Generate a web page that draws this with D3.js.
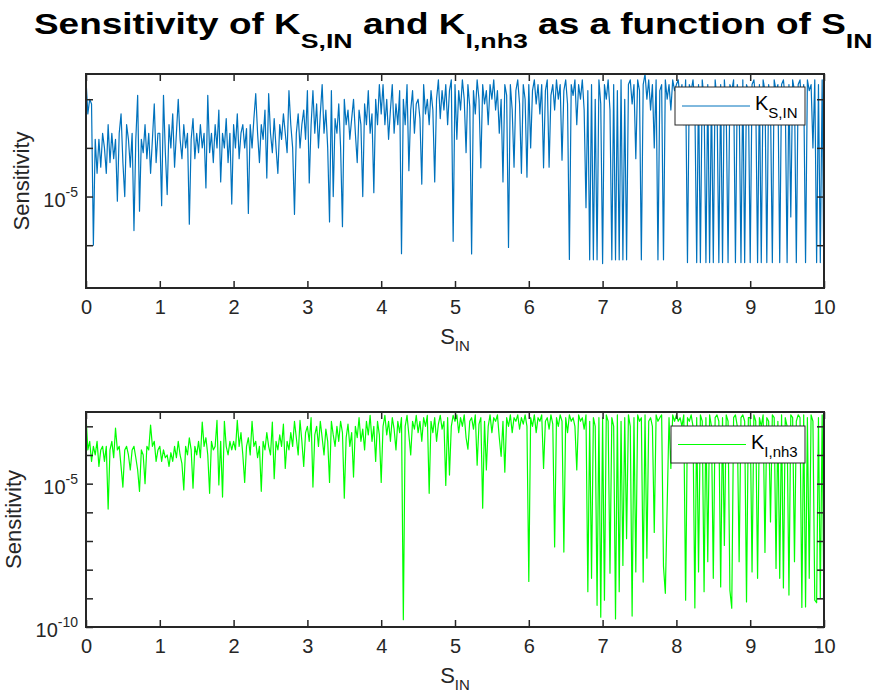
<!DOCTYPE html>
<html>
<head>
<meta charset="utf-8">
<script src="https://cdn.jsdelivr.net/npm/d3@7"></script>
<style>
  body { margin: 0; background: #fff; }
  text { font-family: "Liberation Sans", Arial, sans-serif; fill: #262626; }
</style>
</head>
<body>
<div id="chart"></div>
<script>
// Sensitivity of K_S,IN and K_I,nh3 vs S_IN

// S_IN runs 0..10 in even steps, one sample per value below
const X_TICKS = [0, 1, 2, 3, 4, 5, 6, 7, 8, 9, 10];

// K_S,IN sensitivity, 40 samples per unit of S_IN
const KS_IN = [
  // 0 - 1
  2.5e-3, 5e-4, 1e-3, 8e-4, 1e-6, 1.5e-4, 3e-5, 1.5e-4, 4e-5, 2e-4,
  1e-4, 3e-5, 3e-4, 5e-5, 2e-4, 6e-5, 1.5e-4, 8e-6, 2e-4, 5e-4,
  5e-5, 1e-5, 3e-4, 1.5e-4, 4e-5, 2e-4, 2e-6, 1.5e-4, 1.2e-3, 5e-6,
  1.5e-4, 8e-5, 3e-4, 6e-5, 2e-4, 3e-5, 1.5e-4, 8e-4, 5e-5, 2e-4,
  // 1 - 2
  2e-4, 6.5e-6, 1.2e-3, 8e-5, 1.1e-5, 3e-4, 1e-4, 5e-4, 4e-5, 2e-4,
  1e-3, 1.5e-4, 6e-5, 3e-4, 1e-4, 2e-4, 2.7e-6, 1.5e-4, 4e-4, 6e-5,
  2e-4, 8e-5, 3e-4, 1e-4, 2e-4, 1.5e-5, 1.2e-3, 8e-5, 2e-4, 5e-5,
  3e-4, 1e-4, 6e-4, 2e-5, 2e-4, 1e-4, 4e-4, 5e-5, 2e-4, 7e-6,
  // 2 - 3
  3e-4, 1e-4, 5e-4, 6e-5, 2e-4, 3e-4, 1e-4, 2.5e-4, 4.5e-6, 3e-4,
  1e-4, 4e-4, 1.3e-3, 2e-4, 5e-5, 3e-4, 1.5e-4, 6e-4, 2.4e-5, 1.3e-3,
  2e-4, 8e-5, 4e-4, 1e-4, 3e-5, 3e-4, 1.5e-4, 5e-4, 2e-4, 8e-5,
  1.5e-3, 3e-4, 1e-4, 4.3e-6, 2e-4, 5e-4, 1e-4, 3e-4, 6e-4, 1.5e-4,
  // 3 - 4
  1.5e-3, 1.9e-5, 3e-4, 1.5e-3, 2e-4, 8e-4, 1e-4, 5e-4, 2e-3, 2e-4,
  6e-4, 1e-4, 3e-6, 1.5e-3, 1e-5, 4e-4, 2e-4, 8e-4, 1e-4, 2.4e-6,
  1e-3, 3e-4, 6e-4, 1.5e-4, 4e-4, 1e-3, 2e-4, 5e-5, 6e-4, 3e-4,
  1e-5, 8e-4, 3e-4, 1.5e-3, 2e-4, 5e-4, 1.2e-5, 1e-3, 3e-4, 2e-3,
  // 4 - 5
  5e-4, 2e-3, 3e-4, 1e-3, 1.5e-4, 6e-4, 2e-3, 2e-4, 8e-4, 3e-4,
  1.5e-3, 6.7e-7, 1e-3, 3e-4, 2e-3, 3.4e-5, 6e-4, 1.5e-3, 2e-4, 8e-4,
  1e-3, 4e-4, 1.8e-5, 2e-3, 5e-4, 1e-3, 3e-4, 1.5e-3, 6e-4, 2e-5,
  1e-3, 2.5e-3, 4e-4, 1.5e-3, 6e-4, 2e-3, 3e-4, 1.5e-3, 2.5e-3, 1.2e-6,
  // 5 - 6
  2e-3, 1.5e-4, 1.5e-3, 6e-4, 2.5e-3, 1e-3, 8e-5, 2e-3, 7e-4, 6.6e-7,
  1.5e-3, 5e-4, 2.5e-3, 1e-3, 3.9e-5, 2e-3, 8e-4, 1.5e-3, 3e-4, 2e-3,
  1e-3, 2.5e-3, 6e-4, 1.5e-3, 2e-4, 1e-3, 2e-5, 2e-3, 1.2e-3, 9e-7,
  2e-3, 6e-4, 4e-5, 1.5e-3, 2.5e-3, 8e-4, 3e-5, 2e-3, 1e-3, 2.5e-5,
  // 6 - 7
  2e-3, 1e-4, 1.5e-3, 2.5e-3, 8e-4, 2e-3, 5e-4, 2e-3, 3.9e-5, 1.5e-3,
  2.5e-3, 4e-5, 1.2e-3, 2e-3, 6e-4, 2.5e-3, 1e-3, 2e-3, 5.6e-5, 1.5e-3,
  2.5e-3, 8e-4, 5.1e-7, 2e-3, 1.2e-3, 2.5e-3, 3e-4, 2e-3, 1e-3, 2.5e-3,
  6e-4, 5.9e-6, 1.5e-3, 5e-7, 2e-3, 5e-7, 1e-3, 5e-7, 2.5e-3, 8e-4,
  // 7 - 8
  4.2e-7, 2e-3, 1e-3, 2.5e-3, 6e-4, 5e-7, 2e-3, 5e-7, 1.5e-3, 5e-7,
  2.5e-3, 5e-7, 1e-3, 5e-7, 2e-3, 2.5e-3, 8e-4, 2e-3, 6e-5, 2.5e-3,
  1.5e-3, 5e-7, 2e-3, 3.3e-3, 1e-3, 2.5e-3, 6e-4, 2e-3, 1e-4, 2.5e-3,
  5e-7, 1.5e-3, 2e-3, 5e-7, 2.5e-3, 1e-3, 2e-3, 6e-4, 2.5e-3, 1.5e-3,
  // 8 - 9
  2e-3, 2.5e-3, 1e-3, 2e-3, 3e-4, 2.5e-3, 4.4e-7, 2e-3, 1.5e-3, 2.5e-3,
  8e-4, 4.4e-7, 2e-3, 4.4e-7, 2.5e-3, 1e-3, 4.4e-7, 2e-3, 4.4e-7, 1.5e-3,
  4.4e-7, 2.5e-3, 1e-3, 4.4e-7, 2e-3, 4.4e-7, 2.5e-3, 6e-4, 4.4e-7, 2e-3,
  1.5e-3, 2.5e-3, 4.4e-7, 2e-3, 1e-3, 4.4e-7, 2.5e-3, 4.4e-7, 2e-3, 1.5e-3,
  // 9 - 10
  4.4e-7, 2e-3, 2.5e-3, 1e-3, 4.4e-7, 2e-3, 4.4e-7, 2.5e-3, 1.5e-3, 4.4e-7,
  2e-3, 8e-4, 4.4e-7, 2.5e-3, 1.5e-3, 2e-3, 4.4e-7, 2e-3, 2.5e-3, 1e-3,
  4.4e-7, 2e-3, 3.8e-6, 2.5e-3, 1.5e-3, 4.4e-7, 2e-3, 2.5e-3, 6e-4, 2e-3,
  4.4e-7, 2.5e-3, 1.5e-3, 2e-3, 1e-4, 2.5e-3, 4.4e-7, 2e-3, 4.4e-7, 2.5e-3,
  1.3e-7
];

// K_I,nh3 sensitivity, same S_IN samples
const KI_NH3 = [
  // 0 - 1
  2.4e-3, 1.5e-4, 3e-4, 6e-5, 2e-4, 1e-4, 3e-4, 4e-5, 1.5e-4, 2e-4,
  6e-5, 2e-4, 1.3e-6, 1.5e-4, 3e-4, 8e-5, 8.6e-4, 1.5e-4, 2e-4, 4e-5,
  7.6e-6, 1.5e-4, 2e-4, 1e-4, 3e-5, 1.5e-4, 2e-4, 8e-5, 3e-5, 5.4e-6,
  1.5e-4, 1e-4, 1e-5, 2e-4, 1.5e-4, 1.1e-3, 2e-4, 3e-4, 6e-5, 1.5e-4,
  // 1 - 2
  2e-4, 6e-5, 1.5e-4, 8e-5, 1e-4, 4e-5, 1.2e-4, 6e-5, 2e-4, 8e-5,
  3e-4, 1e-4, 5e-5, 6e-6, 2e-4, 1e-4, 4e-4, 1.5e-4, 7e-6, 2e-4,
  1e-4, 3e-4, 8e-5, 1.4e-3, 2e-4, 4e-4, 1e-4, 4.6e-6, 3e-4, 1.5e-4,
  2e-4, 1.6e-3, 9e-6, 3e-4, 3.4e-6, 1.5e-3, 2e-4, 1e-4, 3e-4, 1.5e-4,
  // 2 - 3
  3e-4, 1.5e-4, 1.6e-3, 2e-4, 6e-4, 1e-4, 1.1e-5, 2e-4, 4e-4, 1e-4,
  1.5e-3, 2e-4, 3e-4, 8e-5, 2e-4, 5.4e-6, 3e-4, 1.5e-4, 6e-4, 2e-4,
  1e-4, 1.4e-3, 1.5e-5, 3e-4, 1.5e-4, 5e-4, 2e-4, 1.2e-3, 3.4e-5, 3e-4,
  1.5e-4, 6e-4, 2e-4, 1.5e-3, 4e-4, 1e-4, 1.6e-3, 3e-4, 4e-5, 6e-4,
  // 3 - 4
  1e-3, 3e-4, 2e-3, 7.6e-6, 5e-4, 1e-3, 2e-4, 1.5e-3, 4e-4, 1e-4,
  8e-4, 3e-4, 1.1e-5, 1.5e-3, 5e-4, 2e-4, 1e-3, 3e-4, 1.5e-3, 6e-4,
  3.1e-6, 4e-4, 1.2e-3, 2e-4, 6e-4, 1.7e-5, 1e-3, 4e-4, 2e-3, 3e-4,
  8e-4, 1.5e-4, 1.5e-3, 5e-4, 2.4e-3, 3e-4, 1e-3, 6e-5, 1.5e-3, 5e-4,
  // 4 - 5
  1.1e-5, 1e-3, 2.4e-3, 5e-4, 1.5e-3, 3e-4, 2e-3, 8e-4, 1.5e-4, 1.5e-3,
  6e-4, 2e-3, 1.8e-10, 1e-3, 2.4e-3, 5e-4, 1e-4, 1.5e-3, 8e-4, 2.4e-3,
  6e-4, 1.5e-3, 3e-4, 2e-3, 1e-3, 2.4e-3, 4.6e-6, 1.5e-3, 6e-4, 2e-3,
  3e-4, 1.2e-3, 2.4e-3, 8e-4, 1.5e-3, 8.7e-6, 2e-3, 2e-5, 1e-3, 2.4e-3,
  // 5 - 6
  1.5e-3, 2.5e-3, 6e-4, 2e-3, 1e-3, 2.5e-3, 4e-4, 1.6e-4, 1.5e-3, 2e-3,
  8e-4, 2.5e-3, 4.4e-5, 1.2e-3, 2e-3, 1.4e-6, 1.5e-3, 3e-5, 1e-3, 2.5e-3,
  6e-4, 2e-3, 1.5e-3, 2.5e-3, 4e-4, 9e-5, 1.5e-3, 2.5e-5, 2e-3, 1e-3,
  2.5e-3, 6e-4, 2e-3, 1.5e-3, 2.5e-3, 8e-4, 2e-3, 1.2e-3, 2.5e-3, 1e-3,
  // 6 - 7
  3.9e-9, 2e-3, 1e-3, 2.5e-3, 6e-4, 2e-3, 1.5e-3, 2.5e-3, 3.4e-5, 1.5e-3,
  2e-3, 8e-4, 2.5e-3, 1.2e-3, 6.2e-8, 2e-3, 1e-3, 2.5e-3, 1.5e-3, 4.1e-8,
  2e-3, 6e-4, 2.5e-3, 1.5e-3, 2e-3, 1e-3, 3e-5, 2.5e-3, 1.5e-3, 2e-3,
  8e-4, 2.5e-3, 1.7e-9, 1.5e-3, 5e-9, 2e-3, 1e-3, 5.7e-10, 2e-3, 2.2e-10,
  // 7 - 8
  2e-3, 8.6e-10, 2.5e-3, 1.5e-3, 7.5e-9, 2e-3, 1e-3, 1.9e-10, 2.5e-3, 1.7e-9,
  1.5e-3, 1.4e-8, 2e-3, 1.2e-7, 2.5e-3, 1e-3, 2.4e-10, 2e-3, 8.3e-9, 2.5e-3,
  1.5e-3, 2e-3, 3.7e-9, 2.5e-3, 2.5e-8, 1.5e-3, 2e-3, 1e-3, 2e-7, 2.5e-3,
  1.5e-3, 2e-3, 2.5e-3, 1.3e-8, 1.5e-9, 1.8e-6, 2e-3, 3.4e-5, 2.5e-3, 1.5e-3,
  // 8 - 9
  2.5e-3, 1.5e-3, 2e-3, 1e-3, 2.5e-3, 8.6e-10, 2e-3, 1.5e-3, 2.5e-3, 1e-3,
  4.6e-10, 2e-3, 8.3e-9, 2.5e-3, 1.5e-3, 1.7e-9, 2e-3, 1.9e-8, 2.5e-3, 1e-3,
  5e-9, 2e-3, 2.5e-3, 1.5e-3, 2.5e-9, 2e-3, 7e-8, 2.5e-3, 1.5e-3, 1.9e-9,
  4.5e-10, 2e-3, 2.5e-3, 1e-3, 1.9e-8, 2e-3, 2.5e-3, 1.5e-3, 7.5e-10, 2e-3,
  // 9 - 10
  2e-3, 8.3e-9, 2.5e-3, 1.5e-3, 5e-9, 2e-3, 1e-3, 2.5e-3, 4e-8, 2e-3,
  1.5e-3, 4.6e-7, 2.5e-3, 2e-3, 1.1e-8, 1.5e-3, 5e-9, 2.5e-3, 2.3e-9, 2e-3,
  1e-3, 1.3e-9, 2.5e-3, 2e-3, 1.9e-8, 1.5e-3, 2.5e-3, 2e-3, 4.8e-10, 2.5e-3,
  5e-10, 2e-3, 5e-9, 2.5e-3, 1.5e-3, 8.6e-10, 7e-10, 2e-3, 1e-9, 2.5e-3,
  2.2e-10
];

// y limits (tight to the data) and decade ticks of each panel
const TOP_Y_DOMAIN = [1.32e-7, 3.3e-3];
const TOP_Y_TICKS = [1e-6, 1e-5, 1e-4, 1e-3];
const TOP_Y_LABELS = [{v: 1e-5, exp: "-5"}];
const BOT_Y_DOMAIN = [1e-10, 3.16e-3];
const BOT_Y_TICKS = [1e-10, 1e-9, 1e-8, 1e-7, 1e-6, 1e-5, 1e-4, 1e-3];
const BOT_Y_LABELS = [{v: 1e-5, exp: "-5"}, {v: 1e-10, exp: "-10"}];

// Frame
const FRAME_WIDTH = 877;
const FRAME_HEIGHT = 693;
const AXIS_COLOR = "#262626";

const FRAME = d3.select("#chart")
                .append("svg")
                  .attr("width", FRAME_WIDTH)
                  .attr("height", FRAME_HEIGHT);

// Title with subscripts
const title = FRAME.append("text")
    .attr("x", 34)
    .attr("y", 34)
    .attr("font-size", "29px")
    .attr("font-weight", "bold")
    .style("fill", "#000");
title.append("tspan").text("Sensitivity of K");
title.append("tspan").text("S,IN").attr("font-size", "21px").attr("dy", 14);
title.append("tspan").text(" and K").attr("dy", -14);
title.append("tspan").text("I,nh3").attr("font-size", "21px").attr("dy", 14);
title.append("tspan").text(" as a function of S").attr("dy", -14);
title.append("tspan").text("IN").attr("font-size", "21px").attr("dy", 14);
// stretch the title to the reference width
const tw = title.node().getBBox().width;
const sx = 839 / tw;
title.attr("transform", "translate(34,0) scale(" + sx + ",1) translate(-34,0)");

// One panel
function drawPanel(p) {
  const X_SCALE = d3.scaleLinear().domain([0, 10]).range([p.left, p.right]);
  const Y_SCALE = d3.scaleLog().domain(p.domain).range([p.bottom, p.top]);
  const n = p.values.length;
  const pts = p.values.map((v, i) => [i * 10 / (n - 1), v]);

  const g = FRAME.append("g");

  const clipId = "clip" + p.id;
  g.append("clipPath").attr("id", clipId)
    .append("rect")
      .attr("x", p.left).attr("y", p.top)
      .attr("width", p.right - p.left).attr("height", p.bottom - p.top);

  // data line
  const line = d3.line()
      .x((d) => { return X_SCALE(d[0]); })
      .y((d) => { return Y_SCALE(d[1]); });
  g.append("path")
    .datum(pts)
    .attr("clip-path", "url(#" + clipId + ")")
    .attr("d", line)
    .attr("fill", "none")
    .attr("stroke", p.color)
    .attr("stroke-width", 1.2)
    .attr("stroke-linejoin", "round");

  // axes, ticks pointing inward on all four sides
  const TICK = 7;
  const xb = g.append("g")
      .attr("transform", "translate(0," + p.bottom + ")")
      .call(d3.axisBottom(X_SCALE).tickValues(X_TICKS).tickSizeInner(-TICK)
              .tickSizeOuter(0).tickPadding(12).tickFormat(d3.format("d")));
  xb.selectAll("text").attr("font-size", "20px").attr("dy", "0.71em");
  const xt = g.append("g")
      .attr("transform", "translate(0," + p.top + ")")
      .call(d3.axisTop(X_SCALE).tickValues(X_TICKS).tickSizeInner(-TICK)
              .tickSizeOuter(0).tickFormat(""));
  const yl = g.append("g")
      .attr("transform", "translate(" + p.left + ",0)")
      .call(d3.axisLeft(Y_SCALE).tickValues(p.ticks).tickSizeInner(-TICK)
              .tickSizeOuter(0).tickFormat(""));
  const yr = g.append("g")
      .attr("transform", "translate(" + p.right + ",0)")
      .call(d3.axisRight(Y_SCALE).tickValues(p.ticks).tickSizeInner(-TICK)
              .tickSizeOuter(0).tickFormat(""));
  [xb, xt, yl, yr].forEach((a) => {
    a.select(".domain").remove();
    a.selectAll("line").attr("stroke", AXIS_COLOR).attr("stroke-width", 1.5);
    a.selectAll("text").style("fill", AXIS_COLOR).attr("font-family", "Liberation Sans, Arial, sans-serif");
  });

  // box
  g.append("rect")
    .attr("x", p.left).attr("y", p.top)
    .attr("width", p.right - p.left).attr("height", p.bottom - p.top)
    .attr("fill", "none")
    .attr("stroke", AXIS_COLOR)
    .attr("stroke-width", 2);

  // y tick labels 10^n
  p.labels.forEach((l) => {
    const t = g.append("text")
        .attr("x", p.left - 8)
        .attr("y", Y_SCALE(l.v) + 10)
        .attr("text-anchor", "end")
        .attr("font-size", "20px");
    t.append("tspan").text("10");
    t.append("tspan").text(l.exp).attr("font-size", "14px").attr("dy", -10);
  });

  // x label S_IN
  const xl = g.append("text")
      .attr("x", (p.left + p.right) / 2)
      .attr("y", p.bottom + 56)
      .attr("text-anchor", "middle")
      .attr("font-size", "22px");
  xl.append("tspan").text("S");
  xl.append("tspan").text("IN").attr("font-size", "15px").attr("dy", 7);

  // y label
  g.append("text")
    .attr("transform", "translate(" + p.ylabelX + "," + ((p.top + p.bottom) / 2) + ") rotate(-90)")
    .attr("text-anchor", "middle")
    .attr("font-size", "22px")
    .text("Sensitivity");

  // legend
  const L = p.legend;
  g.append("rect")
    .attr("x", L.x).attr("y", L.y)
    .attr("width", L.w).attr("height", L.h)
    .attr("fill", "#fff")
    .attr("stroke", AXIS_COLOR)
    .attr("stroke-width", 1);
  g.append("line")
    .attr("x1", L.x + 7).attr("x2", L.x + L.lineW)
    .attr("y1", L.y + L.h / 2).attr("y2", L.y + L.h / 2)
    .attr("stroke", p.color)
    .attr("stroke-width", 1);
  const lt = g.append("text")
      .attr("x", L.x + L.lineW + 5)
      .attr("y", L.y + L.h / 2 + 4)
      .attr("font-size", "20px")
      .style("fill", "#000");
  lt.append("tspan").text("K");
  lt.append("tspan").text(p.sub).attr("font-size", "15px").attr("dy", 8);
}

drawPanel({
  id: 1, values: KS_IN, color: "#0072BD",
  left: 86, right: 824, top: 74, bottom: 288,
  domain: TOP_Y_DOMAIN, ticks: TOP_Y_TICKS, labels: TOP_Y_LABELS,
  ylabelX: 29, sub: "S,IN",
  legend: {x: 675, y: 87, w: 130, h: 38, lineW: 75}
});

drawPanel({
  id: 2, values: KI_NH3, color: "#00FF00",
  left: 86, right: 824, top: 412, bottom: 627,
  domain: BOT_Y_DOMAIN, ticks: BOT_Y_TICKS, labels: BOT_Y_LABELS,
  ylabelX: 21, sub: "I,nh3",
  legend: {x: 671, y: 426, w: 134, h: 37, lineW: 75}
});
</script>
</body>
</html>
